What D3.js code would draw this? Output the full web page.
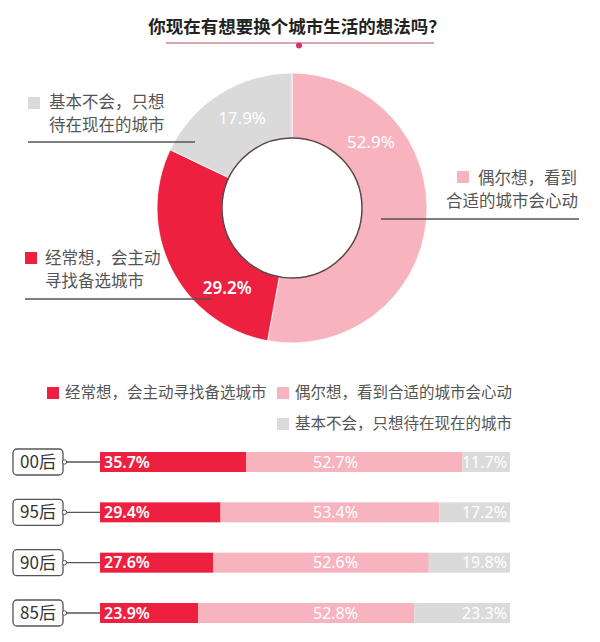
<!DOCTYPE html>
<html><head><meta charset="utf-8">
<script src="https://cdn.jsdelivr.net/npm/d3@7/dist/d3.min.js"></script>
<style>body{margin:0;background:#fff;}svg{display:block;font-family:"Noto Sans CJK SC","Noto Sans",sans-serif;}</style>
</head><body>
<svg id="c" width="600" height="642"></svg>
<script>
const title = "你现在有想要换个城市生活的想法吗？";
const categories = ["偶尔想，看到合适的城市会心动", "经常想，会主动寻找备选城市", "基本不会，只想待在现在的城市"];
const overallValues = [52.9, 29.2, 17.9];
const overallLabelLines = [["偶尔想，看到", "合适的城市会心动"], ["经常想，会主动", "寻找备选城市"], ["基本不会，只想", "待在现在的城市"]];
const groups = ["00后", "95后", "90后", "85后"];
const oftenValues = [35.7, 29.4, 27.6, 23.9];
const sometimesValues = [52.7, 53.4, 52.6, 52.8];
const neverValues = [11.7, 17.2, 19.8, 23.3];

const colors = {pink: "#f7b4bf", red: "#ee2040", grey: "#dadada"};
const catColors = [colors.pink, colors.red, colors.grey];

const svg = d3.select("#c");

// Title
svg.append("text").attr("x", 297).attr("y", 33).attr("text-anchor", "middle")
  .attr("font-size", 17.5).attr("font-weight", 700).attr("fill", "#222").text(title);
svg.append("line").attr("x1", 166).attr("x2", 434).attr("y1", 43).attr("y2", 43)
  .attr("stroke", "#d6a9b2").attr("stroke-width", 2);
svg.append("circle").attr("cx", 299).attr("cy", 45.5).attr("r", 3).attr("fill", "#de3366");

// Donut
const cx = 292, cy = 208;
const pie = d3.pie().sort(null).value(d => d)(overallValues);
const arc = d3.arc().innerRadius(70).outerRadius(135);
const g = svg.append("g").attr("transform", `translate(${cx},${cy})`);
g.selectAll("path").data(pie).join("path").attr("d", arc)
  .attr("fill", (d, i) => catColors[i]).attr("stroke", "#fff").attr("stroke-width", 0.8);
g.append("circle").attr("r", 70).attr("fill", "#fff").attr("stroke", "#5a4448").attr("stroke-width", 1.5);
const labelAngles = [50, 219, -29];
g.selectAll("text.pv").data(pie).join("text").attr("class", "pv")
  .attr("x", (d, i) => 103 * Math.sin(labelAngles[i] * Math.PI / 180))
  .attr("y", (d, i) => -103 * Math.cos(labelAngles[i] * Math.PI / 180))
  .attr("dy", "0.35em").attr("text-anchor", "middle").attr("font-family", "Noto Sans")
  .attr("font-size", 17).attr("font-weight", (d, i) => i === 1 ? 600 : 400)
  .attr("fill", "#fff").text(d => d.data.toFixed(1) + "%");

// Donut callout labels
const callouts = [
  {sq: [457, 171], lines: [[478, 178], [578, 201.5]], anchors: ["start", "end"], rule: [381, 579, 219]},
  {sq: [25, 252], lines: [[45, 258], [45, 281.5]], anchors: ["start", "start"], rule: [25, 212, 299]},
  {sq: [28, 97], lines: [[49, 102], [49, 125.5]], anchors: ["start", "start"], rule: [28, 195, 142]}
];
callouts.forEach((c, i) => {
  svg.append("rect").attr("x", c.sq[0]).attr("y", c.sq[1]).attr("width", 12).attr("height", 12).attr("fill", catColors[i]);
  c.lines.forEach((l, j) => {
    svg.append("text").attr("x", l[0]).attr("y", l[1]).attr("dy", "0.35em").attr("text-anchor", c.anchors[j])
      .attr("font-size", 16.5).attr("fill", "#555").text(overallLabelLines[i][j]);
  });
  svg.append("line").attr("x1", c.rule[0]).attr("x2", c.rule[1]).attr("y1", c.rule[2]).attr("y2", c.rule[2])
    .attr("stroke", "#555").attr("stroke-width", 1.4);
});

// Legend
const legendItems = [
  {i: 1, x: 47, y: 393},
  {i: 0, x: 277, y: 393},
  {i: 2, x: 277, y: 424}
];
legendItems.forEach(l => {
  svg.append("rect").attr("x", l.x).attr("y", l.y - 6).attr("width", 12).attr("height", 12).attr("fill", catColors[l.i]);
  svg.append("text").attr("x", l.x + 18).attr("y", l.y).attr("dy", "0.35em").attr("font-size", 15.5)
    .attr("fill", "#555").text(categories[l.i]);
});

// Stacked bars
const x = d3.scaleLinear().domain([0, 100]).range([100, 510]);
const y = d3.scalePoint().domain(groups).range([462, 613]);
const barH = 20;
const rows = groups.map((gname, i) => ({g: gname, vals: [oftenValues[i], sometimesValues[i], neverValues[i]]}));
const barColors = [colors.red, colors.pink, colors.grey];
rows.forEach(r => {
  let acc = 0;
  const cy2 = y(r.g);
  r.vals.forEach((v, k) => {
    const x0 = x(acc), x1 = k === 2 ? x(100) : x(acc + v);
    svg.append("rect").attr("x", x0).attr("y", cy2 - barH / 2).attr("width", x1 - x0).attr("height", barH).attr("fill", barColors[k]);
    acc += v;
  });
  const fs = 16;
  svg.append("text").attr("x", x(0) + 4).attr("y", cy2).attr("dy", "0.36em").attr("font-family", "Noto Sans")
    .attr("font-size", fs).attr("font-weight", 600).attr("fill", "#fff").text(r.vals[0].toFixed(1) + "%");
  svg.append("text").attr("x", 313).attr("y", cy2).attr("dy", "0.36em").attr("font-family", "Noto Sans")
    .attr("font-size", fs).attr("fill", "#fff").text(r.vals[1].toFixed(1) + "%");
  svg.append("text").attr("x", 507).attr("y", cy2).attr("dy", "0.36em").attr("text-anchor", "end").attr("font-family", "Noto Sans")
    .attr("font-size", fs).attr("fill", "#fff").text(r.vals[2].toFixed(1) + "%");
  // label box
  svg.append("line").attr("x1", 64).attr("x2", x(0)).attr("y1", cy2).attr("y2", cy2).attr("stroke", "#555").attr("stroke-width", 1.3);
  svg.append("rect").attr("x", 13).attr("y", cy2 - 13).attr("width", 50).attr("height", 26).attr("rx", 4)
    .attr("fill", "#fff").attr("stroke", "#555").attr("stroke-width", 1.3);
  svg.append("circle").attr("cx", 64.5).attr("cy", cy2).attr("r", 2.2).attr("fill", "#fff").attr("stroke", "#555").attr("stroke-width", 1);
  svg.append("text").attr("x", 38).attr("y", cy2).attr("dy", "0.36em").attr("text-anchor", "middle")
    .attr("font-size", 17).attr("fill", "#333").text(r.g);
});
</script>
</body></html>
